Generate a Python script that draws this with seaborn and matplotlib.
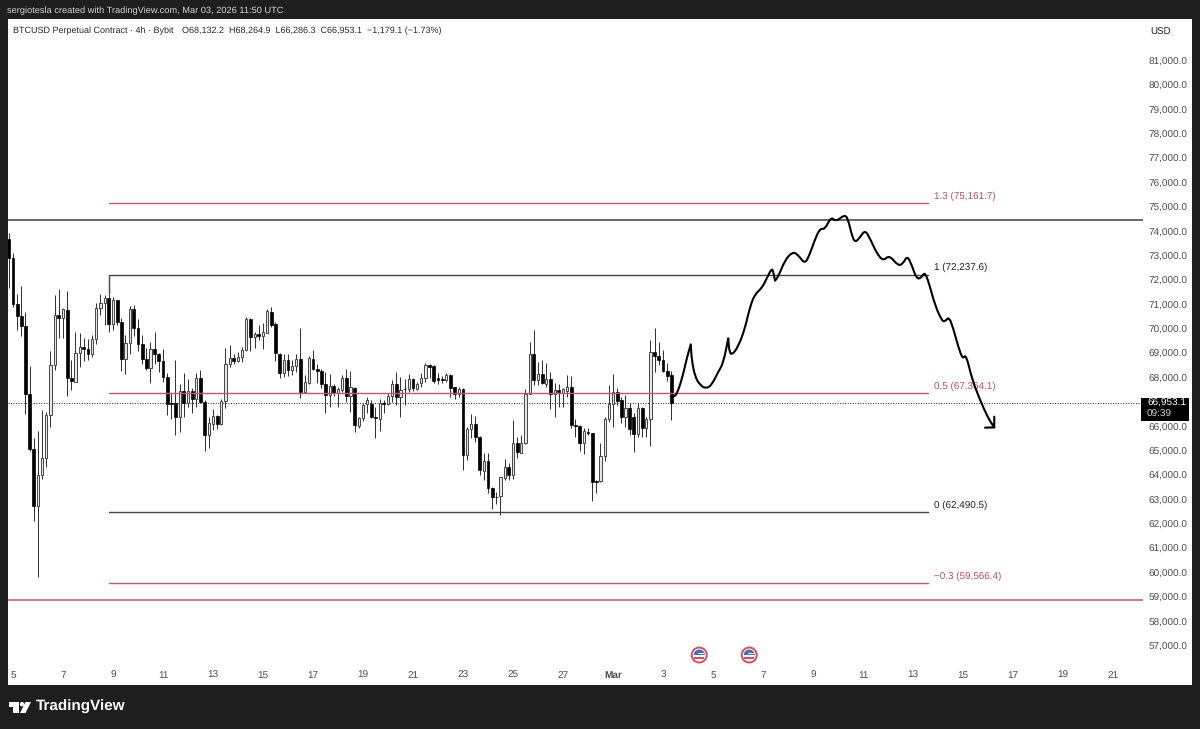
import numpy as np
import pandas as pd
import matplotlib
matplotlib.use("Agg")
import matplotlib.pyplot as plt
import matplotlib.dates as mdates
from matplotlib.patches import Circle, Polygon, Rectangle, Wedge, PathPatch
from matplotlib.path import Path
import seaborn as sns

# OHLC, 4h candles
opens = [73700,72930,71020,70530,70130,67330,65070,62760,64030,64700,66480,68520,70570,70440,70790,68000,67850,69010,69270,69170,
 68980,69580,70870,71090,71290,70210,71180,70290,68790,69450,70810,70030,69380,68790,68410,69170,68970,68710,68050,66970,
 66960,66410,67460,66960,67450,67120,67980,67030,65660,66110,66440,66100,67040,68570,68820,68710,68870,69130,70400,69680,
 69790,69720,69860,70720,70210,69000,68190,68720,68310,68490,68760,67430,67800,68790,68370,68280,67750,67290,67680,67390,
 67500,68010,67260,67600,66040,66340,66920,66920,66410,66310,66980,66920,67260,67740,67230,67560,67530,67940,67560,67780,
 68000,68530,68480,67980,67960,67910,68120,67610,67340,67560,64840,65890,66110,65590,64190,64590,63500,63130,63150,63910,
 64340,64020,65340,64930,65320,67340,68970,67910,68160,67750,67970,67340,67500,67390,67480,67610,66080,66030,65320,65790,
 65730,63770,63770,64800,66300,66930,67420,67090,66410,66770,66410,65690,66770,65930,66310,69050,68900,68740,68300,68132]
highs = [73930,73110,71440,71770,70720,68500,65520,65840,66680,66620,69100,71400,71630,70860,71580,68740,69900,69830,69620,69580,
 69760,71090,71440,71400,71440,71310,71200,70470,69760,70950,70990,70420,69760,69210,69490,69900,69040,69170,68190,67370,
 68740,67750,68220,67940,67570,68190,68320,67090,66410,66710,66480,67120,69210,69350,68970,69080,69260,70490,70440,69900,
 70170,70240,70830,70900,70310,69010,68980,68970,68740,68980,70050,68120,68900,69150,68570,68350,68260,68150,67740,67640,
 68120,68350,68280,67640,66410,66960,67230,67090,66820,67120,67090,67370,67910,68230,68020,67940,68150,68010,67820,68220,
 68630,68570,68530,68190,68080,68190,68150,67640,67640,67600,66000,66510,66440,65620,64930,64910,63510,63330,63950,64660,
 64500,66270,65590,65660,67530,69490,69970,68640,68740,68630,68260,67810,67750,67570,68120,68080,66300,66070,65930,65930,
 65730,63800,65320,66410,67710,68150,67570,67230,67300,66960,66550,66960,66790,66410,69560,70030,69490,69150,68600,68265]
lows = [71680,70900,69970,69730,66520,65010,62130,59820,63840,64330,65970,68320,69650,69620,67260,67500,67820,68430,68690,68740,
 68840,69390,70580,70170,69870,69970,70170,68300,68160,68970,69720,69120,68570,68320,67780,68570,68260,67850,66480,66300,
 65660,65790,66410,66820,66550,66820,66960,65010,65110,65860,65890,66070,66750,68430,68570,68640,68640,69100,69120,69210,
 69560,69170,69830,70100,68690,67980,68020,68080,68120,68260,67190,67370,67740,68320,67800,67600,66550,66790,67260,66790,
 67410,67000,66620,65770,65930,66250,66550,66370,65550,65820,66550,66890,67030,66890,66410,66890,67430,67460,67500,67610,
 67820,67980,67800,67740,67780,67820,67230,67120,67230,64220,64630,65520,65380,64020,63810,63260,62620,62830,62380,63810,
 63810,63840,64700,64910,65290,67340,67710,67710,67750,67640,66710,66410,66790,66790,67200,65930,65590,65010,64860,65660,
 62960,63290,63740,64600,66200,65970,66890,66160,66000,65660,64970,65590,65590,65590,65210,68260,68530,68260,67890,66286]
closes = [72930,71020,70540,70130,67330,65070,62760,64030,64700,66480,68520,70580,70460,70810,68010,67860,69010,69270,69190,68980,
 69600,70870,71090,71290,70210,71200,70290,68790,69450,70810,70030,69390,68790,68390,69170,68970,68690,68050,66920,66920,
 66410,67460,66980,67450,67120,67980,67030,65660,66140,66440,66100,67040,68570,68820,68710,68870,69130,70420,69690,69800,
 69730,69870,70760,70170,69010,68190,68720,68320,68490,68760,67430,67820,68820,68350,68270,67740,67290,67680,67370,67530,
 68010,67270,67610,66070,66370,66900,67090,66400,66340,66960,66930,67260,67740,67230,67500,67530,67940,67570,67760,68000,
 68540,68450,67890,67900,67910,68120,67600,67330,67540,64840,65890,66120,65560,64220,64590,63470,63130,63100,63920,64340,
 64020,65320,64960,65340,67340,68980,67910,68160,67780,67970,67340,67500,67420,67530,67610,66050,66030,65320,65820,65750,
 63740,63740,64800,66300,66930,67440,67070,66410,66770,65890,65700,66770,65930,66310,69050,68900,68740,68300,68080,66953]

# hand-drawn projection (sharp tips are listed twice)
path_days = [26.31,26.45,26.55,26.75,26.95,27.11,27.11,27.15,27.28,27.48,27.72,27.95,28.21,28.41,28.61,28.61,28.65,28.76,29.01,29.28,29.48,29.68,29.95,
 30.15,30.35,30.41,30.48,30.48,30.61,30.88,31.19,31.41,31.65,31.81,32.08,32.28,32.48,32.72,32.92,33.28,33.41,33.55,33.68,33.88,
 34.08,34.28,34.55,34.81,35.05,35.41,35.61,35.77,35.95,36.15,36.35,36.48,36.68,36.88,37.15,37.28,37.44,37.61,37.81,37.99,
 38.12,38.35,38.68,39.01,39.25,39.25]
path_price = [67230,67240,67339,67913,68802,69377,69377,68734,68050,67708,67558,67708,68255,68597,69623,69623,69076,68939,69281,70033,70922,71442,71675,
 72085,72495,72358,71989,71989,72153,72837,73179,73042,72700,72906,73685,74136,74095,74615,74410,74711,74478,73863,73548,73767,
 74068,73726,73111,72796,73042,72591,72700,73015,72632,72044,72126,72358,71743,70991,70348,70307,70512,70033,69281,68761,
 68980,67982,67093,66340,65971,65971]
arrow_days = [39.25, 39.25, 38.88]
arrow_price = [66409, 65971, 65958]

# levels
fib_levels = [75161.7, 72237.6, 67364.1, 62490.5, 59566.4]
fib_labels = ["1.3 (75,161.7)", "1 (72,237.6)", "0.5 (67,364.1)", "0 (62,490.5)", "\u22120.3 (59,566.4)"]
fib_is_red = [True, False, True, False, True]
full_levels = [74479, 58887]
full_colors = ["#3f3f3f", "#c8566a"]
last_price = 66953.1
y_ticks = [v for v in range(57000, 82000, 1000) if v != 67000]
day_ticks = [pd.Timestamp(2026,2,5)+pd.Timedelta(days=d) for d in range(0,24,2)] + [pd.Timestamp(2026,3,1)] + \
            [pd.Timestamp(2026,3,3)+pd.Timedelta(days=2*i) for i in range(10)]
day_labels = ["5","7","9","11","13","15","17","19","21","23","25","27","Mar","3","5","7","9","11","13","15","17","19","21"]
event_days = [27.45, 29.45]

W, H = 1200, 729
BG = "#1e1e1e"
sns.set_theme(style="white")
plt.rcParams["font.family"] = ["Liberation Sans", "DejaVu Sans"]
plt.rcParams["text.hinting"] = "no_hinting"
plt.rcParams["text.hinting_factor"] = 8

t0 = pd.Timestamp(2026,2,5)
def d2n(d):
    return mdates.date2num(t0) + np.asarray(d)

fig = plt.figure(figsize=(W/100, H/100), dpi=100, facecolor=BG)
def fx(p): return p / W
def fy(p): return 1 - p / H

fig.add_artist(Rectangle((fx(8), fy(685)), fx(1184), 666/H, transform=fig.transFigure,
                         facecolor="white", edgecolor="none", zorder=0))
ax = fig.add_axes([fx(8), fy(685), fx(1135), 666/H], facecolor="none", zorder=1)
for s in ax.spines.values():
    s.set_visible(False)

times = pd.date_range("2026-02-04 20:00", periods=len(opens), freq="4h")
df = pd.DataFrame({"time": times, "open": opens, "high": highs, "low": lows, "close": closes})
xs = mdates.date2num(df["time"])
up = df["close"] >= df["open"]

ax.vlines(xs, df["low"], df["high"], color="#333333", lw=0.72, zorder=3)
ax.bar(xs[up], (df["close"]-df["open"])[up], bottom=df["open"][up], width=2.2/25,
       facecolor="#e6e6e6", edgecolor="#4a4a4a", linewidth=0.72, zorder=4)
ax.bar(xs[~up], (df["close"]-df["open"])[~up], bottom=df["open"][~up], width=3.0/25,
       facecolor="black", edgecolor="black", linewidth=0.5, zorder=4)

RED = "#c8566a"
fx0, fx1 = d2n(3.84), d2n(36.6)
for lv, lab, red in zip(fib_levels, fib_labels, fib_is_red):
    c = RED if red else "#444444"
    sns.lineplot(x=[fx0, fx1], y=[lv, lv], ax=ax, color=c, lw=1.0, zorder=5)
    ax.annotate(lab, (fx1, lv), xytext=(4.5, 1.6), textcoords="offset points", fontsize=7.1,
                color="#c04a60" if red else "#222222", va="bottom", ha="left", zorder=6)
ax.vlines(fx0, 71440, fib_levels[1], color="#444444", lw=1.0, zorder=5)
for lv, c in zip(full_levels, full_colors):
    ax.axhline(lv, color=c, lw=1.1, zorder=5)
ax.axhline(last_price, color="#222222", lw=0.7, ls=(0, (1, 1.6)), zorder=2)

# the drawn curve: a quadratic chain through the midpoints of the read points
px = d2n(path_days); py = np.asarray(path_price, float)
verts = [(px[0], py[0])]; codes = [Path.MOVETO]
for i in range(1, len(px) - 1):
    verts += [(px[i], py[i]), ((px[i] + px[i+1]) / 2, (py[i] + py[i+1]) / 2)]
    codes += [Path.CURVE3, Path.CURVE3]
ax.add_patch(PathPatch(Path(verts, codes), fill=False, edgecolor="black", lw=1.5, zorder=7,
                       capstyle="round", joinstyle="round"))
sns.lineplot(x=d2n(arrow_days), y=arrow_price, ax=ax, color="black", lw=1.5, sort=False,
             estimator=None, zorder=7)

ax.set_xlim(d2n(-0.2), d2n(45.2))
ax.set_ylim(55400, 82726)
ax.set_xlabel(""); ax.set_ylabel("")
ax.set_yticks(y_ticks)
ax.set_yticklabels([f"{v:,.1f}" for v in y_ticks], fontsize=7.2, color="#4d4d4d")
ax.yaxis.tick_right()
ax.tick_params(axis="y", length=0, pad=4.3, right=False, left=False)
ax.set_xticks(mdates.date2num(day_ticks))
ax.set_xticklabels(day_labels, fontsize=7.2, color="#4d4d4d")
ax.tick_params(axis="x", length=0, pad=-10, bottom=False)
for t, l in zip(ax.get_xticklabels(), day_labels):
    if l == "Mar":
        t.set_fontweight("bold")

# text header
fig.text(fx(7), fy(11), "sergiotesla created with TradingView.com, Mar 03, 2026 11:50 UTC",
         color="#d8d8d8", fontsize=6.7, va="center", ha="left")
fig.text(fx(13), fy(31), "BTCUSD Perpetual Contract \u00b7 4h \u00b7 Bybit", color="#2a2a2a",
         fontsize=6.5, va="center", ha="left", zorder=5)
fig.text(fx(182), fy(31), "O68,132.2  H68,264.9  L66,286.3  C66,953.1  \u22121,179.1 (\u22121.73%)",
         color="#2a2a2a", fontsize=6.5, va="center", ha="left", zorder=5)
fig.text(fx(1150), fy(32), "USD", color="#222222", fontsize=7.0, va="center", ha="left", zorder=5)

# price tag
fig.add_artist(Rectangle((fx(1141), fy(421)), 48/W, 23/H, transform=fig.transFigure,
                         facecolor="black", edgecolor="none", zorder=5))
fig.text(fx(1147), fy(403.5), "66,953.1", color="white", fontsize=7.2, va="center", ha="left", zorder=6)
fig.text(fx(1147), fy(414.5), "09:39", color="#d0d0d0", fontsize=7.2, va="center", ha="left", zorder=6)

# event flags
tr = fig.dpi_scale_trans
def add(a):
    fig.add_artist(a); a.set_zorder(6)
for d in event_days:
    cx = 13 + d * 25
    pos = (cx / 100, (H - 655) / 100)
    add(Circle(pos, 0.075, transform=tr, facecolor="white", edgecolor="#e04b52", lw=1.4))
    add(Wedge(pos, 0.055, 0, 180, transform=tr, facecolor="#3b6fc9", edgecolor="none"))
    add(Rectangle((pos[0]-0.05, pos[1]-0.035), 0.10, 0.018, transform=tr, facecolor="#e04b52", edgecolor="none"))
    add(Rectangle((pos[0]-0.012, pos[1]+0.008), 0.06, 0.012, transform=tr, facecolor="white", edgecolor="none"))

# TradingView mark
def poly(pts):
    fig.add_artist(Polygon([(fx(a), fy(b)) for a, b in pts], closed=True, transform=fig.transFigure,
                           facecolor="white", edgecolor="none", zorder=6))
poly([(9,702),(19,702),(19,713),(13.3,713),(13.3,706.5),(9,706.5)])
add(Circle((22 / 100, (H - 704.2) / 100), 0.022, transform=tr, facecolor="white", edgecolor="none"))
poly([(25.5,702),(31,702),(25.5,713),(20,713)])
fig.text(fx(36), fy(707), "TradingView", color="white", fontsize=11, fontweight="bold",
         va="center", ha="left")

fig.savefig("out.png", dpi=100, facecolor=BG)
